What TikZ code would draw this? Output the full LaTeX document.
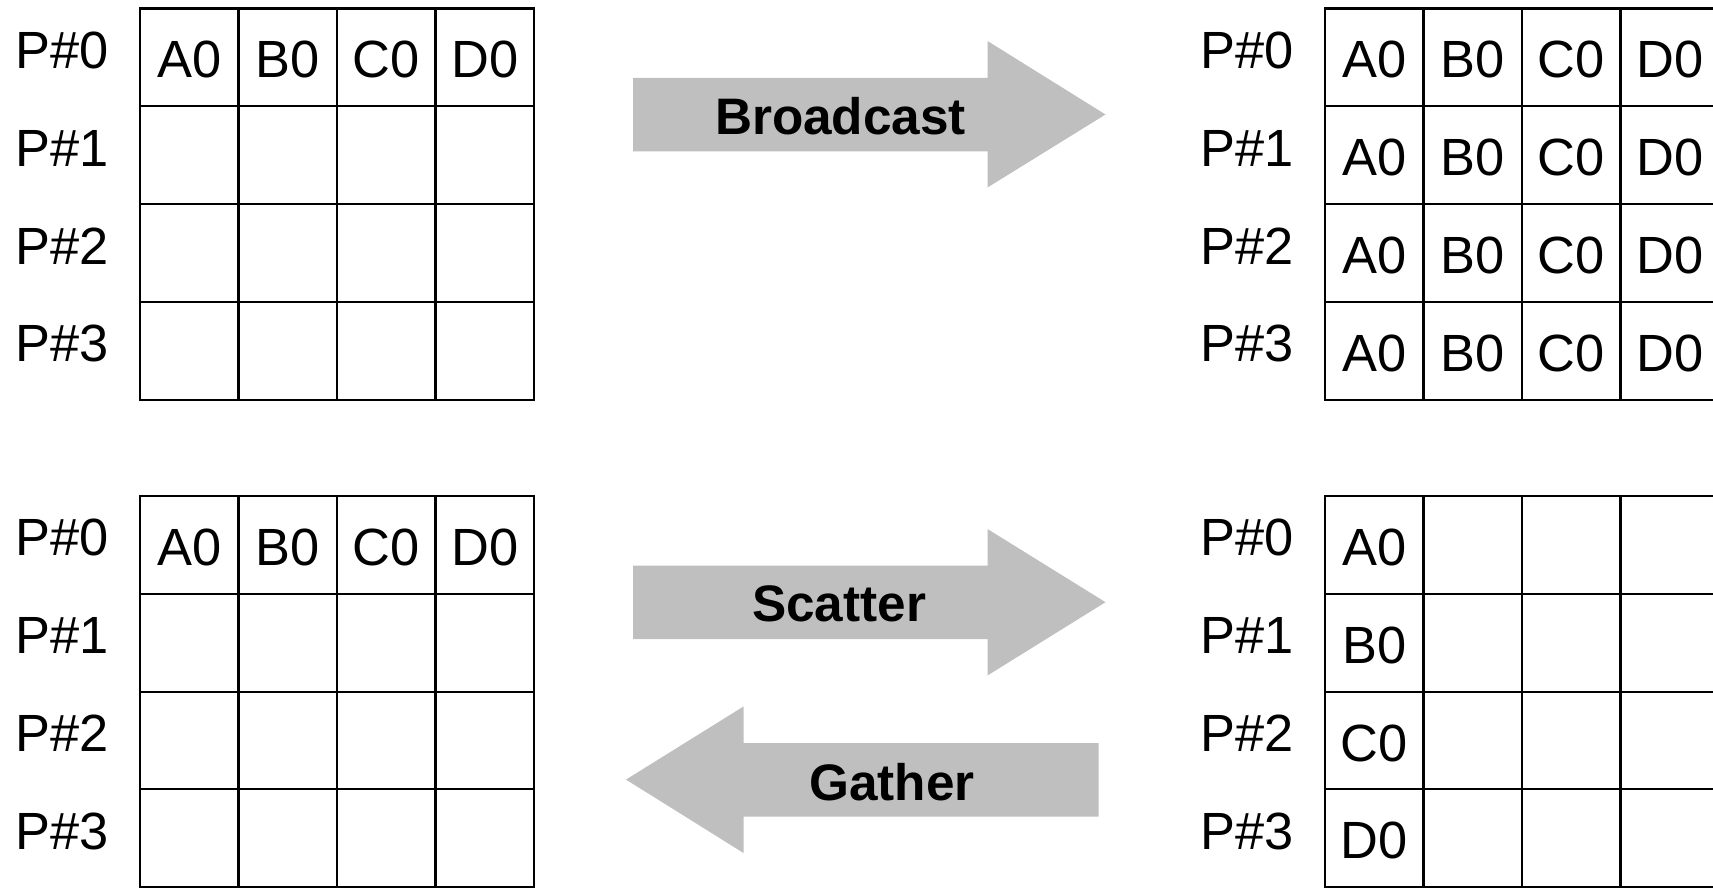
\documentclass[tikz,border=0pt]{standalone}
\usepackage{fontspec}
\setmainfont{Liberation Sans}
\definecolor{arrowgray}{RGB}{191,191,191}
\tikzset{
  cellbox/.style={draw, line width=1.2pt, minimum width=1.97cm, minimum height=1.956cm, inner sep=0pt},
  celltext/.style={font=\fontsize{29.8}{30}\selectfont, inner sep=0pt, yshift=-0.05cm},
  proclabel/.style={font=\fontsize{29.8}{30}\selectfont, inner sep=0pt, yshift=0.14cm},
  opfill/.style={fill=arrowgray},
  oplabel/.style={font=\fontsize{29.2}{30}\selectfont\bfseries, inner sep=0pt},
}
% 4x4 cells with the process names on the left, #1 = prefix of the node names
\newcommand{\procgrid}[1]{%
  \foreach \r in {0,...,3}{
    \node[proclabel] (#1-p\r) at (-1.56,-1.956*\r-0.978) {P\#\r};
    \foreach \c in {0,...,3}
      \node[cellbox] (#1-\r-\c) at (1.97*\c+0.985,-1.956*\r-0.978) {};
  }%
}
\begin{document}
\begin{tikzpicture}
\clip (0,0) rectangle (34.26,17.74);
% broadcast
\begin{scope}[shift={(2.80,17.57)}]
    \procgrid{tl}
    \foreach \c/\txt in {0/A0,1/B0,2/C0,3/D0}
        \node[celltext] (tl-t\c) at (tl-0-\c) {\txt};
\end{scope}
\begin{scope}[shift={(26.50,17.57)}]
    \procgrid{tr}
    \foreach \r in {0,...,3}
        \foreach \c/\txt in {0/A0,1/B0,2/C0,3/D0}
            \node[celltext] (tr-t\r\c) at (tr-\r-\c) {\txt};
\end{scope}
\fill[opfill] (12.66,14.71) -- (19.75,14.71) -- (19.75,13.99) -- (22.11,15.45)
    -- (19.75,16.92) -- (19.75,16.18) -- (12.66,16.18) -- cycle;
\node[oplabel] (bcast) at (16.81,15.42) {Broadcast};
% scatter / gather
\begin{scope}[shift={(2.80,7.82)}]
    \procgrid{bl}
    \foreach \c/\txt in {0/A0,1/B0,2/C0,3/D0}
        \node[celltext] (bl-t\c) at (bl-0-\c) {\txt};
\end{scope}
\begin{scope}[shift={(26.50,7.82)}]
    \procgrid{br}
    \foreach \r/\txt in {0/A0,1/B0,2/C0,3/D0}
        \node[celltext] (br-t\r) at (br-\r-0) {\txt};
\end{scope}
\fill[opfill] (12.66,4.96) -- (19.75,4.96) -- (19.75,4.23) -- (22.11,5.696)
    -- (19.75,7.16) -- (19.75,6.43) -- (12.66,6.43) -- cycle;
\node[oplabel] (scatter) at (16.78,5.67) {Scatter};
\fill[opfill] (21.97,1.41) -- (14.87,1.41) -- (14.87,0.68) -- (12.52,2.148)
    -- (14.87,3.61) -- (14.87,2.88) -- (21.97,2.88) -- cycle;
\node[oplabel] (gather) at (17.84,2.10) {Gather};
\end{tikzpicture}
\end{document}
